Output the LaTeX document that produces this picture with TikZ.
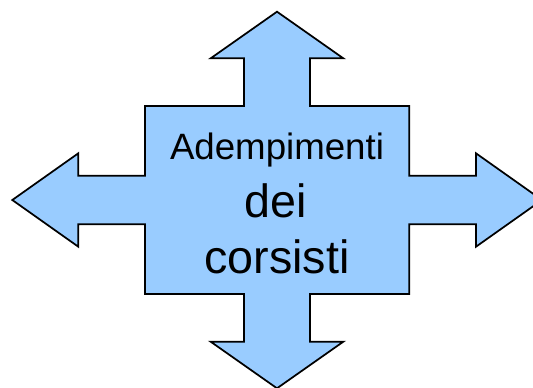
\documentclass[tikz,border=0pt]{standalone}
\usepackage{fontspec}
\setmainfont{Liberation Sans}
\definecolor{arrowblue}{HTML}{99CCFF}
\begin{document}
\begin{tikzpicture}
[x=0.75pt,y=-0.75pt,
  arrowdecorate/.style={fill=arrowblue,draw=black,line width=1.3pt,line join=miter},%
  smalltext/.style={anchor=base,inner sep=0pt,font=\fontsize{27.5}{30}\selectfont},%
  bigtext/.style={anchor=base,inner sep=0pt,font=\fontsize{35}{40}\selectfont}]
\useasboundingbox (0,0) rectangle (533,387);
\clip (0,0) rectangle (533,387);
%% quad arrow
\draw[arrowdecorate]
  (277,11.7) -- (343.3,58.3) -- (310,58.3) -- (310,106) -- (409.3,106)
  -- (409.3,175.7) -- (476,175.7) -- (476,153.3) -- (542,200)
  -- (476,246.7) -- (476,224.3) -- (409.3,224.3) -- (409.3,294)
  -- (310,294) -- (310,341.7) -- (343.3,341.7) -- (277,388.3)
  -- (210.7,341.7) -- (244,341.7) -- (244,294) -- (145,294)
  -- (145,224.3) -- (78.3,224.3) -- (78.3,246.7) -- (12.3,200)
  -- (78.3,153.3) -- (78.3,175.7) -- (145,175.7) -- (145,106)
  -- (244,106) -- (244,58.3) -- (210.7,58.3) -- cycle;
%% labels
\node (adempimenti) at (277,159.3) [smalltext] {Adempimenti};
\node (dei) at (276,217.3) [bigtext] {dei};
\node (corsisti) at (277,273.3) [bigtext] {corsisti};
\end{tikzpicture}
\end{document}
